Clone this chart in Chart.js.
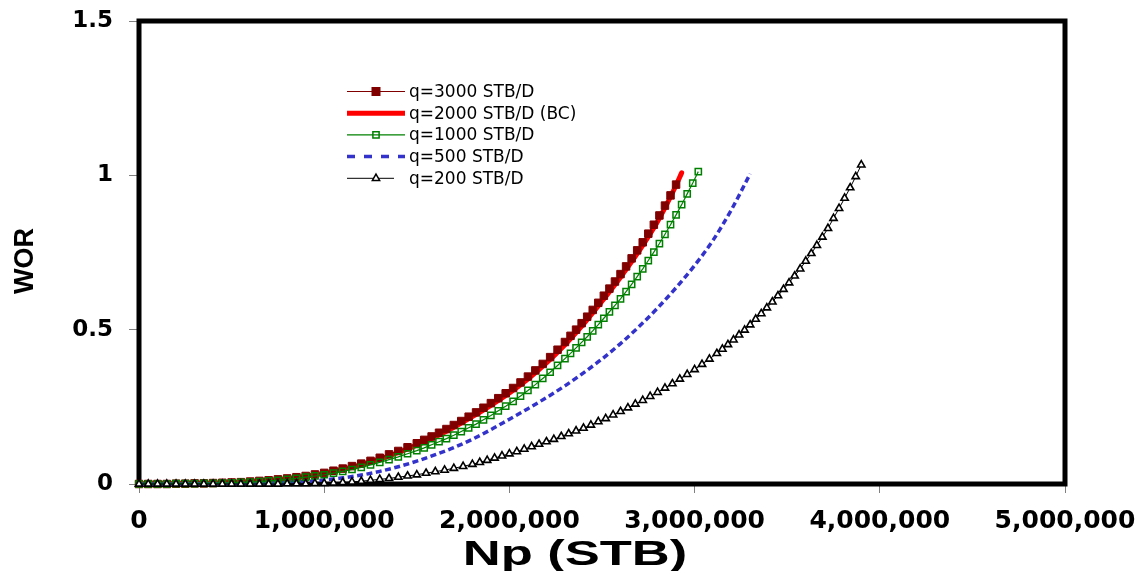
<!DOCTYPE html>
<html>
<head>
<meta charset="utf-8">
<script src="https://cdn.jsdelivr.net/npm/chart.js@4.4.1/dist/chart.umd.min.js"></script>
<style>
  html, body { margin: 0; padding: 0; background: #fff; }
</style>
</head>
<body>
<canvas id="wor" width="1148" height="571"></canvas>
<script>
// Np in thousand STB, WOR dimensionless
const q3000Np = [0,50,100,150,200,250,300,350,400,450,500,550,600,650,700,750,800,850,900,950,1000,1050,1100,1150,1200,1250,1300,1350,1400,1450,1500,
  1540,1580,1620,1660,1700,1740,1780,1820,1860,1900,1940,1980,2020,2060,2100,2140,2180,2220,2260,2300,
  2330,2360,2390,2420,2450,2480,2510,2540,2570,2600,2630,2660,2690,2720,2750,2780,2810,2840,2870,2900];
const q3000Wor = [0,0,0,0,0.001,0.001,0.002,0.002,0.003,0.004,0.005,0.006,0.008,0.010,0.012,0.015,0.018,0.022,0.026,0.031,0.036,0.043,0.050,0.058,0.066,0.075,0.085,0.096,0.107,0.119,0.132,
  0.143,0.154,0.166,0.178,0.191,0.204,0.218,0.232,0.247,0.262,0.278,0.294,0.311,0.329,0.348,0.368,0.389,0.411,0.435,0.460,
  0.480,0.500,0.521,0.542,0.564,0.587,0.610,0.633,0.656,0.680,0.705,0.731,0.757,0.783,0.811,0.840,0.870,0.902,0.935,0.970];

const q2000Np = [0,100,200,300,400,500,600,700,800,900,1000,1100,1200,1300,1400,1500,1600,1700,1800,1900,2000,2100,2200,2300,2400,2500,2600,2700,2800,2900,2930];
const q2000Wor = [0,0,0.001,0.002,0.003,0.005,0.008,0.012,0.017,0.025,0.035,0.048,0.063,0.081,0.102,0.126,0.153,0.184,0.218,0.255,0.295,0.340,0.392,0.451,0.518,0.592,0.670,0.755,0.850,0.968,1.008];

const q1000Np = [0,50,100,150,200,250,300,350,400,450,500,550,600,650,700,750,800,850,900,950,1000,1050,1100,1150,1200,1250,1300,1350,1400,1450,1500,
  1540,1580,1620,1660,1700,1740,1780,1820,1860,1900,1940,1980,2020,2060,2100,2140,2180,2220,2260,2300,
  2330,2360,2390,2420,2450,2480,2510,2540,2570,2600,2630,2660,2690,2720,2750,2780,2810,2840,2870,2900,2930,2960,2990,3020];
const q1000Wor = [0,0,0,0,0.001,0.001,0.001,0.002,0.002,0.003,0.004,0.005,0.006,0.008,0.010,0.012,0.015,0.018,0.022,0.026,0.030,0.035,0.041,0.047,0.054,0.062,0.070,0.079,0.088,0.098,0.108,
  0.117,0.127,0.137,0.147,0.158,0.170,0.182,0.194,0.208,0.222,0.237,0.252,0.268,0.285,0.303,0.322,0.342,0.362,0.384,0.406,
  0.423,0.441,0.459,0.477,0.496,0.516,0.537,0.558,0.579,0.600,0.623,0.647,0.672,0.697,0.724,0.751,0.779,0.809,0.840,0.872,0.905,0.940,0.975,1.012];

const q500Np = [0,100,200,300,400,500,600,700,800,900,1000,1100,1200,1300,1400,1500,1600,1700,1800,1900,2000,2100,2200,2300,2400,2500,2600,2700,2800,2900,3000,3100,3200,3300];
const q500Wor = [0,0,0,0.001,0.001,0.001,0.002,0.003,0.005,0.008,0.013,0.020,0.029,0.041,0.056,0.074,0.095,0.118,0.145,0.176,0.210,0.244,0.280,0.318,0.360,0.405,0.455,0.510,0.570,0.636,0.708,0.790,0.890,1.005];

const q200Np = [0,50,100,150,200,250,300,350,400,450,500,550,600,650,700,750,800,850,900,950,1000,1050,1100,1150,1200,1250,1300,1350,1400,1450,1500,1550,1600,1650,1700,1750,1800,
  1840,1880,1920,1960,2000,2040,2080,2120,2160,2200,2240,2280,2320,2360,2400,2440,2480,2520,2560,2600,2640,2680,2720,2760,2800,2840,2880,2920,2960,3000,3040,3080,
  3120,3150,3180,3210,3240,3270,3300,3330,3360,3390,3420,3450,3480,3510,3540,3570,3600,3630,3660,3690,3720,3750,3780,3810,3840,3870,3900];
const q200Wor = [0,0,0,0,0,0,0,0,0,0,0,0,0,0,0,0,0.001,0.001,0.001,0.002,0.002,0.003,0.005,0.007,0.009,0.012,0.015,0.018,0.022,0.026,0.030,0.035,0.040,0.045,0.051,0.057,0.064,
  0.070,0.077,0.084,0.091,0.098,0.105,0.113,0.121,0.129,0.137,0.145,0.154,0.163,0.172,0.181,0.191,0.202,0.212,0.224,0.235,0.247,0.259,0.271,0.284,0.297,0.311,0.325,0.340,0.355,0.371,0.388,0.405,
  0.423,0.437,0.452,0.467,0.483,0.499,0.516,0.534,0.552,0.571,0.590,0.610,0.631,0.652,0.674,0.697,0.722,0.747,0.773,0.800,0.828,0.861,0.893,0.926,0.960,0.996,1.034];

const seriesLabels = ['q=3000 STB/D', 'q=2000 STB/D (BC)', 'q=1000 STB/D', 'q=500 STB/D', 'q=200 STB/D'];
const xTicks = [0, 1000, 2000, 3000, 4000, 5000];
const yTicks = [0, 0.5, 1, 1.5];
const xTitle = 'Np (STB)';
const yTitle = 'WOR';

function pts(np, wor) {
  return np.map((x, i) => ({ x: x, y: wor[i] }));
}

Chart.defaults.font.family = '"DejaVu Sans", sans-serif';
Chart.defaults.color = '#000';

const datasets = [
  {
    label: seriesLabels[0], data: pts(q3000Np, q3000Wor),
    borderColor: '#800000', borderWidth: 1, pointStyle: 'rect', pointRadius: 5.3,
    pointBackgroundColor: '#800000', pointBorderColor: '#800000', pointBorderWidth: 1, order: 4
  },
  {
    label: seriesLabels[1], data: pts(q2000Np, q2000Wor),
    borderColor: '#ff0000', borderWidth: 5, pointRadius: 0, cubicInterpolationMode: 'monotone',
    borderCapStyle: 'round', order: 5
  },
  {
    label: seriesLabels[2], data: pts(q1000Np, q1000Wor),
    borderColor: '#008000', borderWidth: 1.2, pointStyle: 'rect', pointRadius: 4.4,
    pointBackgroundColor: 'rgba(255,255,255,0)', pointBorderColor: '#008000', pointBorderWidth: 1.5, order: 2
  },
  {
    label: seriesLabels[3], data: pts(q500Np, q500Wor),
    borderColor: '#3333cc', borderWidth: 3.5, borderDash: [6, 3.5], pointRadius: 0,
    cubicInterpolationMode: 'monotone', order: 3
  },
  {
    label: seriesLabels[4], data: pts(q200Np, q200Wor),
    borderColor: '#000', borderWidth: 1, pointStyle: 'triangle', pointRadius: 4.2,
    pointBackgroundColor: '#fff', pointBorderColor: '#000', pointBorderWidth: 1.6, order: 1
  }
];

// legend sample styles, same order as seriesLabels
const legendStyles = [
  { color: '#800000', width: 1, len: 58, marker: 'rect', r: 5.3, fill: '#800000' },
  { color: '#ff0000', width: 5, len: 58 },
  { color: '#008000', width: 1.2, len: 58, marker: 'rect', r: 4.4, fill: null },
  { color: '#3333cc', width: 3.5, len: 58, dash: [8, 9] },
  { color: '#000', width: 1, len: 47, marker: 'triangle', r: 4.2, fill: '#fff' }
];

function drawMarker(ctx, type, x, y, r, fill, stroke) {
  ctx.beginPath();
  if (type === 'rect') {
    const s = Math.SQRT1_2 * r;
    ctx.rect(x - s, y - s, 2 * s, 2 * s);
  } else {
    ctx.moveTo(x, y - r);
    ctx.lineTo(x + 0.866 * r, y + 0.5 * r);
    ctx.lineTo(x - 0.866 * r, y + 0.5 * r);
    ctx.closePath();
  }
  if (fill) { ctx.fillStyle = fill; ctx.fill(); }
  ctx.lineWidth = 1.5;
  ctx.strokeStyle = stroke;
  ctx.stroke();
}

const frame = {
  id: 'frame',
  beforeDatasetsDraw(chart) {
    const { ctx, chartArea: a } = chart;
    ctx.save();
    ctx.lineWidth = 5;
    ctx.strokeStyle = '#000';
    ctx.strokeRect(a.left, a.top, a.right - a.left, a.bottom - a.top);
    ctx.restore();
  }
};

const boxLegend = {
  id: 'boxLegend',
  afterDatasetsDraw(chart) {
    const { ctx, chartArea: a } = chart;
    const x0 = a.left + 208, y0 = a.top + 70.5, rowH = 21.7;
    seriesLabels.forEach((label, i) => {
      const st = legendStyles[i];
      const y = y0 + i * rowH;
      ctx.save();
      ctx.strokeStyle = st.color;
      ctx.lineWidth = st.width;
      ctx.setLineDash(st.dash || []);
      ctx.beginPath();
      ctx.moveTo(x0, y);
      ctx.lineTo(x0 + st.len, y);
      ctx.stroke();
      ctx.setLineDash([]);
      if (st.marker) drawMarker(ctx, st.marker, x0 + 29, y, st.r, st.fill, st.color);
      ctx.fillStyle = '#000';
      ctx.font = '17px "DejaVu Sans"';
      ctx.textBaseline = 'middle';
      ctx.fillText(label, x0 + 62, y + 1);
      ctx.restore();
    });
  }
};

// axis titles: the source uses a wide (horizontally stretched) bold face
const axisTitles = {
  id: 'axisTitles',
  afterDraw(chart) {
    const { ctx, chartArea: a } = chart;
    ctx.save();
    ctx.fillStyle = '#000';
    ctx.textAlign = 'center';
    ctx.textBaseline = 'alphabetic';
    ctx.font = 'bold 35px "Liberation Sans"';
    ctx.translate(a.left + 436, a.bottom + 81);
    ctx.scale(1.5, 1);
    ctx.fillText(xTitle, 0, 0);
    ctx.restore();

    ctx.save();
    ctx.fillStyle = '#000';
    ctx.textAlign = 'center';
    ctx.textBaseline = 'alphabetic';
    ctx.font = 'bold 27px "Liberation Sans"';
    ctx.translate(33, a.top + 240);
    ctx.rotate(-Math.PI / 2);
    ctx.fillText(yTitle, 0, 0);
    ctx.restore();
  }
};

new Chart(document.getElementById('wor'), {
  type: 'line',
  data: { datasets: datasets },
  options: {
    responsive: false,
    animation: false,
    clip: false,
    layout: { padding: { top: 21, right: 83, left: 0, bottom: 0 } },
    plugins: { legend: { display: false }, tooltip: { enabled: false } },
    elements: { line: { tension: 0 } },
    scales: {
      x: {
        type: 'linear', min: 0, max: 5000,
        afterFit: (s) => { s.height = 87; s.paddingLeft = 0; s.paddingRight = 0; },
        afterBuildTicks: (s) => { s.ticks = xTicks.map(v => ({ value: v })); },
        ticks: {
          padding: 13,
          font: { size: 25, weight: 'bold' },
          callback: (v) => (v * 1000).toLocaleString('en-US')
        },
        grid: { drawOnChartArea: false, tickLength: 9, color: '#808080' },
        border: { display: false }
      },
      y: {
        type: 'linear', min: 0, max: 1.5,
        afterFit: (s) => { s.width = 139; s.paddingTop = 0; s.paddingBottom = 0; },
        afterBuildTicks: (s) => { s.ticks = yTicks.map(v => ({ value: v })); },
        ticks: {
          padding: 16,
          font: { size: 23, weight: 'bold' },
          callback: (v) => String(v)
        },
        grid: { drawOnChartArea: false, tickLength: 10, color: '#808080' },
        border: { display: false }
      }
    }
  },
  plugins: [frame, boxLegend, axisTitles]
});
</script>
</body>
</html>
